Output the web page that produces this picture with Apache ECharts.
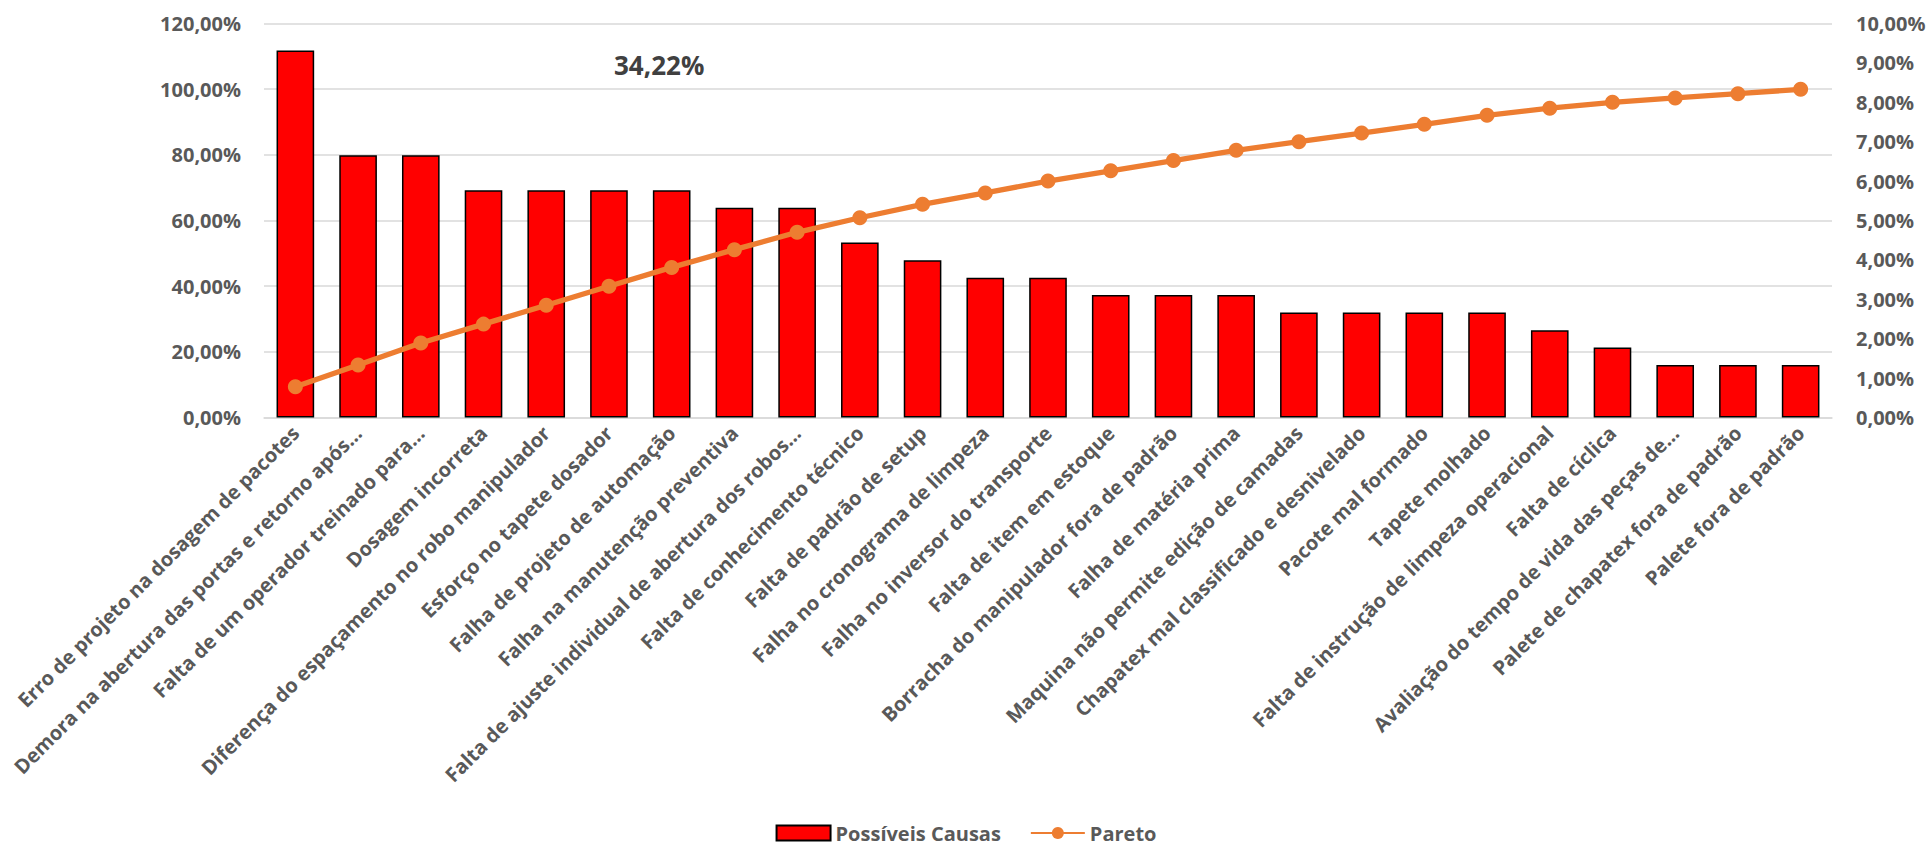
<!DOCTYPE html>
<html><head><meta charset="utf-8">
<script src="https://cdn.jsdelivr.net/npm/echarts@6/dist/echarts.min.js"></script>
<style>html,body{margin:0;padding:0;background:#fff}#c{width:1932px;height:848px}</style>
</head><body><div id="c"></div>
<script>
const categories = [
  'Erro de projeto na dosagem de pacotes',
  'Demora na abertura das portas e retorno após…',
  'Falta de um operador treinado para…',
  'Dosagem incorreta',
  'Diferença do espaçamento no robo manipulador',
  'Esforço no tapete dosador',
  'Falha de projeto de automação',
  'Falha na manutenção preventiva',
  'Falta de ajuste individual de abertura dos robos…',
  'Falta de conhecimento técnico',
  'Falta de padrão de setup',
  'Falha no cronograma de limpeza',
  'Falha no inversor do transporte',
  'Falta de item em estoque',
  'Borracha do manipulador fora de padrão',
  'Falha de matéria prima',
  'Maquina não permite edição de camadas',
  'Chapatex mal classificado e desnivelado',
  'Pacote mal formado',
  'Tapete molhado',
  'Falta de instrução de limpeza operacional',
  'Falta de cíclica',
  'Avaliação do tempo de vida das peças de…',
  'Palete de chapatex fora de padrão',
  'Palete fora de padrão'
];
const causasValues = [111.8, 79.9, 79.9, 69.2, 69.2, 69.2, 69.2, 63.9, 63.9, 53.3, 47.9, 42.6, 42.6,
  37.3, 37.3, 37.3, 32.0, 32.0, 32.0, 32.0, 26.6, 21.3, 16.0, 16.0, 16.0];
const paretoValues = [0.78, 1.33, 1.89, 2.37, 2.85, 3.33, 3.81, 4.26, 4.70, 5.07, 5.41, 5.70, 6.00,
  6.26, 6.52, 6.78, 7.00, 7.22, 7.44, 7.67, 7.85, 8.00, 8.11, 8.22, 8.33];
const leftTicks = [0, 20, 40, 60, 80, 100, 120];
const rightTicks = [0, 1, 2, 3, 4, 5, 6, 7, 8, 9, 10];
const annotationText = '34,22%';
const seriesNames = ['Possíveis Causas', 'Pareto'];

const FONT = '"Open Sans", "Noto Sans", sans-serif';
const fmt = v => v.toFixed(2).replace('.', ',') + '%';

const chart = echarts.init(document.getElementById('c'), null, {renderer: 'svg'});
chart.setOption({
  animation: false,
  backgroundColor: '#ffffff',
  textStyle: {fontFamily: FONT},
  grid: {left: 264, right: 100, top: 23.5, bottom: 430.5, containLabel: false},
  legend: {
    bottom: 0, padding: [4, 5, 3, 5], left: 'center', itemGap: 29, itemWidth: 54, itemHeight: 15,
    textStyle: {fontFamily: FONT, fontWeight: 'bold', fontSize: 20, lineHeight: 24, color: '#595959'},
    data: [
      {name: seriesNames[0], icon: 'rect'},
      {name: seriesNames[1]}
    ]
  },
  graphic: [{
    type: 'text', left: 614, top: 52,
    style: {text: annotationText, fontFamily: FONT, fontWeight: 'bold', fontSize: 26, fill: '#404040'}
  }],
  xAxis: {
    type: 'category', data: categories,
    axisTick: {show: false},
    axisLine: {show: true, lineStyle: {color: '#D9D9D9', width: 1.5}},
    axisLabel: {interval: 0, rotate: 45, margin: 12, color: '#595959', fontFamily: FONT, fontWeight: 'bold', fontSize: 20}
  },
  yAxis: [{
    type: 'value', min: leftTicks[0], max: leftTicks[leftTicks.length - 1], interval: leftTicks[1] - leftTicks[0],
    axisLine: {show: false}, axisTick: {show: false},
    splitLine: {lineStyle: {color: '#D9D9D9', width: 1.5}},
    axisLabel: {margin: 23, color: '#595959', fontFamily: FONT, fontWeight: 'bold', fontSize: 20, formatter: fmt}
  }, {
    type: 'value', min: rightTicks[0], max: rightTicks[rightTicks.length - 1], interval: rightTicks[1] - rightTicks[0],
    axisLine: {show: false}, axisTick: {show: false}, splitLine: {show: false},
    axisLabel: {margin: 24, color: '#595959', fontFamily: FONT, fontWeight: 'bold', fontSize: 20, formatter: fmt}
  }],
  series: [{
    name: seriesNames[0], type: 'bar', data: causasValues, yAxisIndex: 0,
    barCategoryGap: '40%',
    itemStyle: {color: '#FF0000', borderColor: '#000000', borderWidth: 1.5}
  }, {
    name: seriesNames[1], type: 'line', data: paretoValues, yAxisIndex: 1,
    symbol: 'circle', symbolSize: 15,
    lineStyle: {color: '#ED7D31', width: 5.3},
    itemStyle: {color: '#ED7D31'}
  }]
});
</script></body></html>
